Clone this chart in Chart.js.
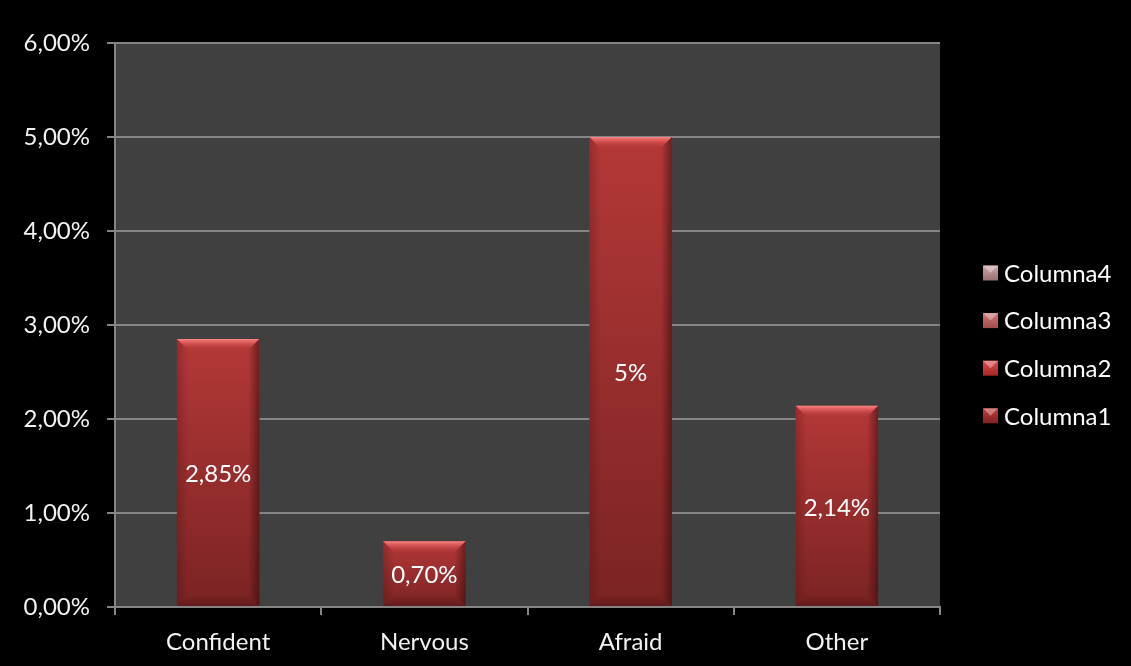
<!DOCTYPE html>
<html>
<head>
<meta charset="utf-8">
<script src="https://cdn.jsdelivr.net/npm/chart.js@4.4.1/dist/chart.umd.min.js"></script>
<style>
  html, body { margin: 0; padding: 0; background: #000; }
  #wrap { width: 1131px; height: 666px; }
</style>
</head>
<body>
<div id="wrap"><canvas id="chart" width="1131" height="666"></canvas></div>
<script>
// Categories and series values (percent)
const categories = ['Confident', 'Nervous', 'Afraid', 'Other'];
const columna1 = [2.85, 0.70, 5, 2.14];
const columna2 = [];
const columna3 = [];
const columna4 = [];
const seriesNames = ['Columna1', 'Columna2', 'Columna3', 'Columna4'];
const yTickValues = [0, 1, 2, 3, 4, 5, 6];

// Legend marker shades, light top / dark bottom, per series
const legendShades = [
  ['#c23d3d', '#7d2222'],
  ['#e24c4c', '#a32828'],
  ['#d47878', '#9e4c4c'],
  ['#cfa6a6', '#967272']
];

const FONT = 'Lato, "Open Sans", sans-serif';
const FONT_SIZE = 24;
const TEXT = '#f2f2f2';
const GRID = '#858585';

function pctLabel(v) {
  return Number.isInteger(v) ? v + '%' : v.toFixed(2).replace('.', ',') + '%';
}
function tickLabel(v) {
  return v.toFixed(2).replace('.', ',') + '%';
}

// Gradient fill for each bar, from its own top to the baseline
function barFill(ctx) {
  const chart = ctx.chart;
  const ys = chart.scales.y;
  if (!ys || ctx.type !== 'data' || ctx.raw == null) return '#a83232';
  const top = ys.getPixelForValue(ctx.raw);
  const bot = ys.getPixelForValue(0);
  if (!isFinite(top) || !isFinite(bot) || top === bot) return '#a83232';
  const g = chart.ctx.createLinearGradient(0, top, 0, bot);
  g.addColorStop(0, '#b43838');
  g.addColorStop(1, '#7b2323');
  return g;
}

// Dark plot area behind the bars
const plotBackground = {
  id: 'plotBackground',
  beforeDraw(chart) {
    const { ctx, chartArea: a } = chart;
    ctx.save();
    ctx.fillStyle = '#000';
    ctx.fillRect(0, 0, chart.width, chart.height);
    ctx.fillStyle = '#404040';
    ctx.fillRect(a.left, a.top, a.right - a.left, a.bottom - a.top);
    ctx.restore();
  }
};

// Bevelled edges on top of each bar, plus the value labels
const barBevel = {
  id: 'barBevel',
  afterDatasetsDraw(chart) {
    const { ctx } = chart;
    const meta = chart.getDatasetMeta(0);
    const values = chart.data.datasets[0].data;
    ctx.save();
    meta.data.forEach((bar, i) => {
      const { x, y, base, width } = bar.getProps(['x', 'y', 'base', 'width'], true);
      const l = x - width / 2, r = x + width / 2, t = y, b = base;
      const bv = 11;
      // top bevel
      let g = ctx.createLinearGradient(0, t, 0, t + bv);
      g.addColorStop(0, 'rgba(250,130,130,1)');
      g.addColorStop(0.35, 'rgba(225,95,95,0.8)');
      g.addColorStop(1, 'rgba(190,60,60,0)');
      ctx.fillStyle = g;
      ctx.beginPath();
      ctx.moveTo(l, t); ctx.lineTo(r, t); ctx.lineTo(r - bv, t + bv); ctx.lineTo(l + bv, t + bv);
      ctx.closePath(); ctx.fill();
      // right side shade
      g = ctx.createLinearGradient(r, 0, r - bv, 0);
      g.addColorStop(0, 'rgba(40,5,5,0.5)');
      g.addColorStop(1, 'rgba(40,5,5,0)');
      ctx.fillStyle = g;
      ctx.beginPath();
      ctx.moveTo(r, t); ctx.lineTo(r, b); ctx.lineTo(r - bv, b - bv); ctx.lineTo(r - bv, t + bv);
      ctx.closePath(); ctx.fill();
      // left side shade
      g = ctx.createLinearGradient(l, 0, l + bv, 0);
      g.addColorStop(0, 'rgba(60,10,10,0.25)');
      g.addColorStop(1, 'rgba(60,10,10,0)');
      ctx.fillStyle = g;
      ctx.beginPath();
      ctx.moveTo(l, t); ctx.lineTo(l + bv, t + bv); ctx.lineTo(l + bv, b - bv); ctx.lineTo(l, b);
      ctx.closePath(); ctx.fill();
      // bottom shade
      g = ctx.createLinearGradient(0, b, 0, b - bv);
      g.addColorStop(0, 'rgba(40,5,5,0.3)');
      g.addColorStop(1, 'rgba(40,5,5,0)');
      ctx.fillStyle = g;
      ctx.beginPath();
      ctx.moveTo(l, b); ctx.lineTo(r, b); ctx.lineTo(r - bv, b - bv); ctx.lineTo(l + bv, b - bv);
      ctx.closePath(); ctx.fill();

      // value label in the middle of the bar
      ctx.fillStyle = '#ffffff';
      ctx.font = FONT_SIZE + 'px ' + FONT;
      ctx.textAlign = 'center';
      ctx.textBaseline = 'middle';
      ctx.fillText(pctLabel(values[i]), x, (t + b) / 2 + 2);
    });
    ctx.restore();
  }
};

// Legend on the right, last series listed first
const sideLegend = {
  id: 'sideLegend',
  afterDraw(chart) {
    const { ctx } = chart;
    const sets = chart.data.datasets;
    const x0 = 983, size = 15, textX = 1004, yStart = 273, step = 47.6;
    ctx.save();
    ctx.font = FONT_SIZE + 'px ' + FONT;
    ctx.textAlign = 'left';
    ctx.textBaseline = 'middle';
    for (let k = 0; k < sets.length; k++) {
      const idx = sets.length - 1 - k;
      const cy = yStart + k * step;
      const top = cy - size / 2;
      const [c1, c2] = legendShades[idx];
      const g = ctx.createLinearGradient(0, top, 0, top + size);
      g.addColorStop(0, c1);
      g.addColorStop(1, c2);
      ctx.fillStyle = g;
      ctx.fillRect(x0, top, size, size);
      // bevel highlight wedge on the marker
      ctx.fillStyle = 'rgba(255,255,255,0.35)';
      ctx.beginPath();
      ctx.moveTo(x0, top); ctx.lineTo(x0 + size, top); ctx.lineTo(x0 + size / 2, top + size / 2);
      ctx.closePath(); ctx.fill();
      ctx.fillStyle = '#ffffff';
      ctx.fillText(sets[idx].label, textX, cy + 1);
    }
    ctx.restore();
  }
};

const seriesData = [columna1, columna2, columna3, columna4];

new Chart(document.getElementById('chart'), {
  type: 'bar',
  data: {
    labels: categories,
    datasets: seriesNames.map((name, i) => ({
      label: name,
      data: seriesData[i],
      backgroundColor: barFill,
      borderWidth: 0,
      grouped: false,
      barPercentage: 0.8,
      categoryPercentage: 0.5
    }))
  },
  options: {
    responsive: false,
    animation: false,
    devicePixelRatio: 1,
    layout: { padding: { top: 43, right: 191, left: 0, bottom: 0 } },
    plugins: {
      legend: { display: false },
      tooltip: { enabled: false }
    },
    scales: {
      x: {
        offset: true,
        grid: {
          drawOnChartArea: false,
          drawTicks: true,
          tickLength: 8,
          color: GRID,
          lineWidth: 2,
          offset: true
        },
        border: { color: GRID, width: 2 },
        ticks: { color: TEXT, font: { family: FONT, size: FONT_SIZE }, padding: 13 },
        afterFit(s) { s.height = 59; }
      },
      y: {
        min: 0,
        max: 6,
        afterBuildTicks(s) { s.ticks = yTickValues.map(v => ({ value: v })); },
        grid: { color: GRID, lineWidth: 2, tickLength: 8, drawTicks: true },
        border: { color: GRID, width: 2 },
        ticks: {
          color: TEXT,
          font: { family: FONT, size: FONT_SIZE },
          padding: 17,
          callback: v => tickLabel(v)
        },
        afterFit(s) { s.width = 115; }
      }
    }
  },
  plugins: [plotBackground, barBevel, sideLegend]
});
</script>
</body>
</html>
